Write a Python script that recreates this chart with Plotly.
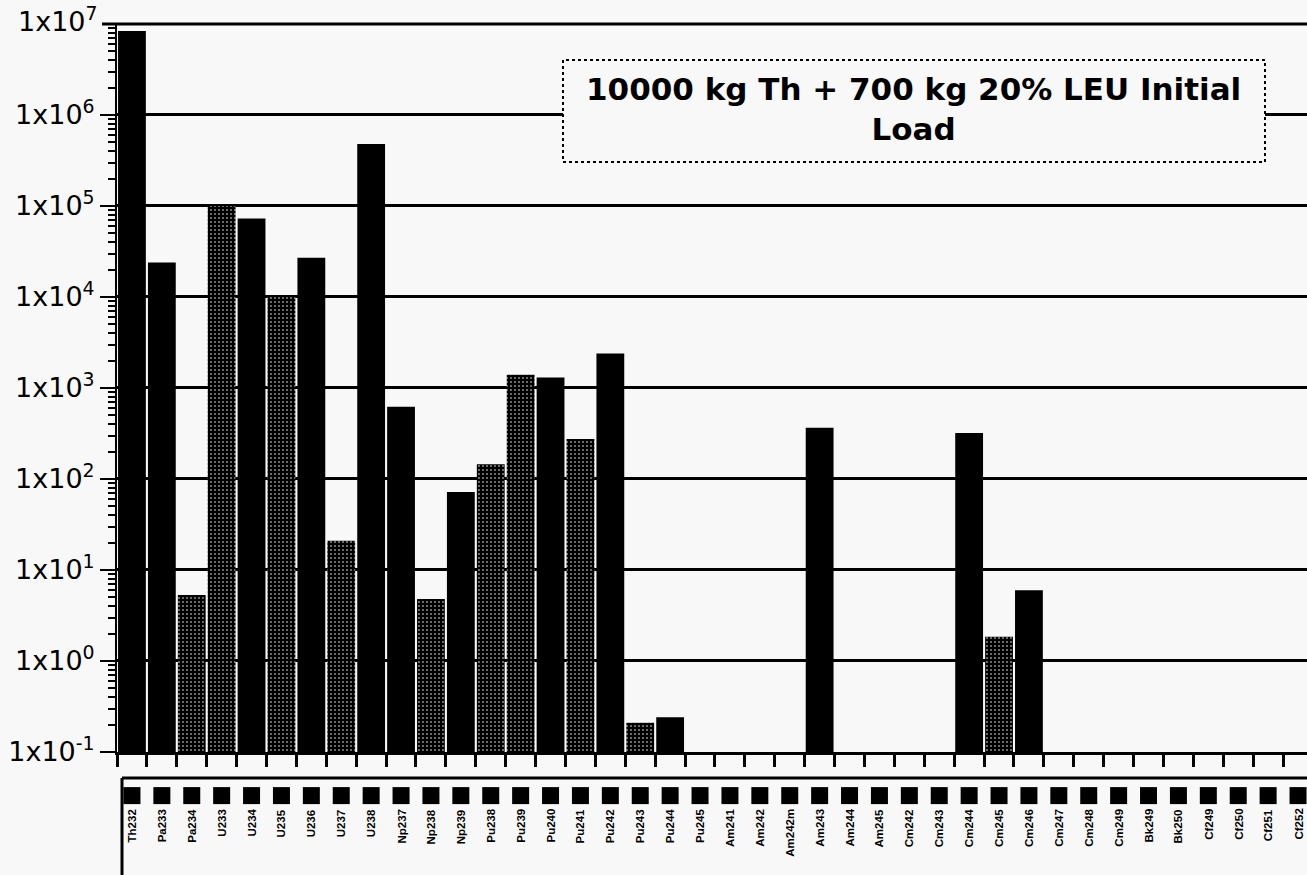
import plotly.graph_objects as go

categories = ["Th232", "Pa233", "Pa234", "U233", "U234", "U235", "U236", "U237", "U238",
              "Np237", "Np238", "Np239", "Pu238", "Pu239", "Pu240", "Pu241", "Pu242",
              "Pu243", "Pu244", "Pu245", "Am241", "Am242", "Am242m", "Am243", "Am244",
              "Am245", "Cm242", "Cm243", "Cm244", "Cm245", "Cm246", "Cm247", "Cm248",
              "Cm249", "Bk249", "Bk250", "Cf249", "Cf250", "Cf251", "Cf252"]

values = [8.4e6, 2.4e4, 5.3, 1.0e5, 7.3e4, 1.05e4, 2.7e4, 21, 4.8e5,
          620, 4.8, 72, 145, 1400, 1300, 275, 2400,
          0.21, 0.24, None, None, None, None, 365, None,
          None, None, None, 320, 1.85, 6.0, None, None,
          None, None, None, None, None, None, None]

stippled = ["Pa234", "U233", "U235", "U237", "Np238", "Pu238", "Pu239", "Pu241", "Pu243", "Cm245"]

tick_vals = [1e-1, 1e0, 1e1, 1e2, 1e3, 1e4, 1e5, 1e6]
tick_text = ["1x10<sup>-1</sup>", "1x10<sup>0</sup>", "1x10<sup>1</sup>", "1x10<sup>2</sup>",
             "1x10<sup>3</sup>", "1x10<sup>4</sup>", "1x10<sup>5</sup>", "1x10<sup>6</sup>"]
top_tick_text = "1x10<sup>7</sup>"   # label of the top edge of the axis (1e7)

title_text = "10000 kg Th + 700 kg 20% LEU Initial<br>Load"

BG = "#f8f8f8"
W, H = 1307, 875
ML, MT = 117, 24
PW, PH = W - ML, H - MT


def px(x):                   # page pixel -> paper x
    return (x - ML) / PW


def py(y):                   # page pixel -> paper y
    return (H - y) / PH


patterns = ["." if c in stippled else "" for c in categories]

fig = go.Figure()
fig.add_trace(go.Bar(
    x=categories, y=values,
    marker=dict(color="black", line=dict(width=0),
                pattern=dict(shape=patterns, fgcolor="white", bgcolor="black",
                             size=4, solidity=0.12, fillmode="replace")),
    showlegend=False, xaxis="x", yaxis="y",
))

# key squares in the category box below the chart
fig.add_trace(go.Scatter(
    x=categories, y=[0.65] * len(categories), mode="markers",
    marker=dict(symbol="square", size=17, color="black", line=dict(width=0)),
    showlegend=False, xaxis="x", yaxis="y2", hoverinfo="skip",
))

minor_vals = [k * 10 ** e for e in range(-1, 7) for k in range(2, 10)]

label_annotations = [
    dict(text=c, x=c, xref="x", y=py(807), yref="paper", textangle=-90,
         xanchor="center", yanchor="top", showarrow=False,
         font=dict(size=11.5, family="Liberation Sans, Arial", weight="bold", color="black"))
    for c in categories
]

fig.update_layout(
    width=W, height=H,
    margin=dict(l=ML, r=0, t=MT, b=0, autoexpand=False),
    paper_bgcolor=BG, plot_bgcolor=BG,
    bargap=0.07,
    font=dict(family="Liberation Sans, Arial, sans-serif", color="black"),
    xaxis=dict(
        type="category", range=[-0.5, 39.3], anchor="y", automargin=False,
        tickson="boundaries", ticks="outside", ticklen=12, tickwidth=3, tickcolor="black",
        showline=True, linewidth=3, linecolor="black", showgrid=False,
        showticklabels=False,
    ),
    yaxis=dict(
        type="log", range=[-1.0005, 7.0], domain=[py(752), 1], automargin=False,
        tickvals=tick_vals, ticktext=tick_text,
        ticks="outside", ticklen=15, tickwidth=2, tickcolor="black",
        showline=True, linewidth=2, linecolor="black",
        showgrid=True, gridcolor="black", gridwidth=3,
        tickfont=dict(size=27, family="DejaVu Sans"), zeroline=False,
        minor=dict(tickvals=minor_vals, ticks="outside", ticklen=7, tickwidth=2,
                   tickcolor="black", showgrid=False),
    ),
    yaxis2=dict(domain=[0, py(752) - 0.001], range=[0, 1], visible=False,
                fixedrange=True, automargin=False),
    shapes=[
        # top (1e7) grid line and tick at the upper edge of the axis
        dict(type="line", xref="paper", yref="paper", x0=-15 / PW, x1=1, y0=1, y1=1,
             line=dict(color="black", width=3)),
        dict(type="rect", xref="paper", yref="paper",
             x0=px(563), x1=px(1265), y0=py(162), y1=py(60),
             fillcolor=BG, line=dict(color="black", width=2, dash="dot"), layer="above"),
        dict(type="line", xref="paper", yref="paper",
             x0=px(122), x1=1, y0=py(778), y1=py(778),
             line=dict(color="black", width=3)),
        dict(type="line", xref="paper", yref="paper",
             x0=px(122), x1=px(122), y0=py(778), y1=0,
             line=dict(color="black", width=3)),
    ],
    annotations=[
        dict(text=top_tick_text, xref="paper", yref="paper", x=0, y=1,
             xanchor="right", yanchor="middle", xshift=-17, yshift=5, showarrow=False,
             font=dict(size=27, family="DejaVu Sans", color="black")),
        dict(text=title_text, xref="paper", yref="paper",
             x=px(914), y=py(109), xanchor="center", yanchor="middle",
             showarrow=False, align="center",
             font=dict(size=31, family="DejaVu Sans", weight="bold", color="black")),
    ] + label_annotations,
)

fig.write_html("out.html",
               config={"displayModeBar": False, "staticPlot": True},
               post_script="document.body.style.margin='0';document.body.style.overflow='hidden';")
